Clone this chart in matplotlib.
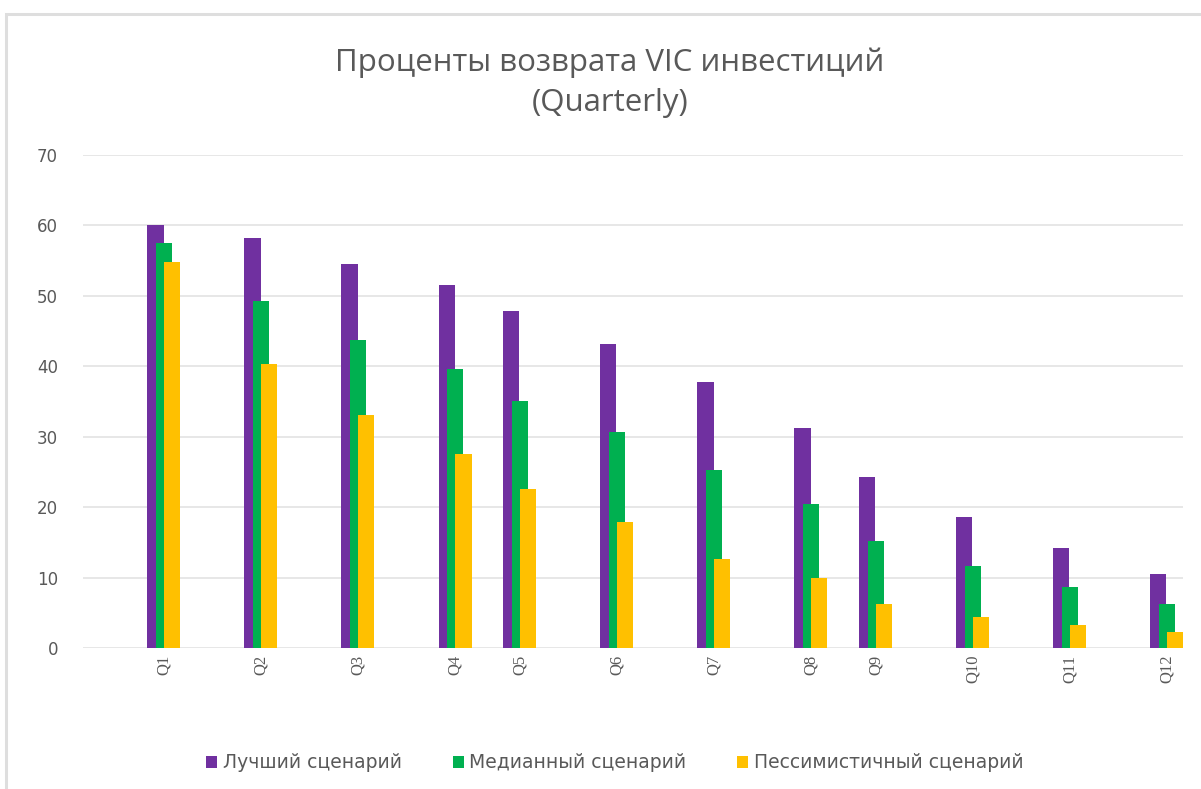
import matplotlib.pyplot as plt
import matplotlib.patches as mpatches
import numpy as np

# данные
quarters = ["Q1", "Q2", "Q3", "Q4", "Q5", "Q6", "Q7", "Q8", "Q9", "Q10", "Q11", "Q12"]
# положение кварталов на оси (месяцы, ось дат как в Excel)
months = [0, 3, 6, 9, 11, 14, 17, 20, 22, 25, 28, 31]
best = [60.0, 58.2, 54.5, 51.6, 47.9, 43.2, 37.8, 31.3, 24.3, 18.6, 14.2, 10.5]
median = [57.5, 49.3, 43.7, 39.6, 35.1, 30.7, 25.3, 20.5, 15.2, 11.6, 8.7, 6.3]
pessim = [54.8, 40.3, 33.1, 27.6, 22.6, 17.9, 12.6, 9.9, 6.2, 4.4, 3.3, 2.3]
series_names = ["Лучший сценарий", "Медианный сценарий", "Пессимистичный сценарий"]
colors = ["#7030A0", "#00B050", "#FFC000"]

fig = plt.figure(figsize=(12.01, 7.89), dpi=100)
ax = fig.add_axes([0.0691, 0.1787, 0.9159, 0.6248])

# рамка вокруг области диаграммы (уходит за правый и нижний край)
fig.patches.append(mpatches.Rectangle((0.0046, -0.05), 1.05, 1.032, transform=fig.transFigure,
                                      fill=False, edgecolor="#dedede", linewidth=2.2))

x = np.array(months)
w = 0.5
off = 0.26
bars = []
for vals, shift, c in zip([best, median, pessim], [-off, 0, off], colors):
    bars.append(ax.bar(x + shift, vals, width=w, color=c, zorder=3))

ax.set_xlim(-2.5, 31.5)
ax.set_ylim(0, 70)
ax.set_yticks(range(0, 71, 10))
ax.grid(axis="y", color="#e3e3e3", linewidth=1.2, zorder=0)
for s in ax.spines.values():
    s.set_visible(False)
ax.tick_params(axis="y", length=0, pad=18, labelsize=12, labelcolor="#595959")
ax.set_xticks(x)
ax.set_xticklabels(quarters, rotation=90, fontsize=12, color="#595959", family="Liberation Serif")
ax.tick_params(axis="x", length=0, pad=5)

fig.text(0.508, 0.895, "Проценты возврата VIC инвестиций\n(Quarterly)", ha="center", va="center",
         fontsize=22.5, color="#595959", family="Open Sans", linespacing=1.45)

fig.legend(bars, series_names, loc="center", bbox_to_anchor=(0.512, 0.033), ncol=3, frameon=False,
           prop={"family": "DejaVu Sans", "size": 13.5},
           handlelength=0.6, handleheight=0.6, handletextpad=0.3, columnspacing=2.7,
           labelcolor="#595959")

plt.savefig("out.png", dpi=100)
